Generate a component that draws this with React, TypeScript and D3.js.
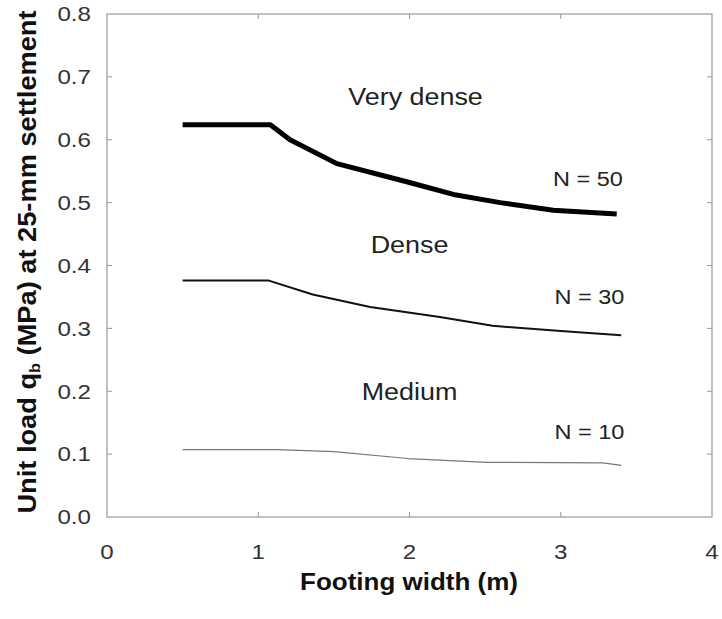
import { useEffect, useRef } from 'react'
import * as d3 from 'd3'

// Footing width (m) vs unit load (MPa) at 25-mm settlement
const n50 = [
  [0.5, 0.624], [1.08, 0.624], [1.21, 0.6], [1.52, 0.562], [2.0, 0.532],
  [2.29, 0.513], [2.6, 0.5], [2.95, 0.488], [3.37, 0.482],
]
const n30 = [
  [0.5, 0.376], [1.07, 0.376], [1.36, 0.354], [1.74, 0.334], [2.2, 0.318],
  [2.55, 0.304], [3.0, 0.296], [3.4, 0.289],
]
const n10 = [
  [0.5, 0.107], [1.13, 0.107], [1.5, 0.104], [1.99, 0.093], [2.51, 0.087],
  [3.28, 0.086], [3.4, 0.082],
]

const xTicks = [0, 1, 2, 3, 4]
const yTicks = [0, 0.1, 0.2, 0.3, 0.4, 0.5, 0.6, 0.7, 0.8]

const zoneLabels = [
  { text: 'Very dense', x: 2.04, y: 0.668 },
  { text: 'Dense', x: 2.0, y: 0.433 },
  { text: 'Medium', x: 2.0, y: 0.199 },
]
const nLabels = [
  { text: 'N = 50', x: 3.18, y: 0.538 },
  { text: 'N = 30', x: 3.19, y: 0.35 },
  { text: 'N = 10', x: 3.19, y: 0.135 },
]

export default function App() {
  const svgRef = useRef(null)

  useEffect(() => {
    if (!svgRef.current) return
    const width = 722
    const height = 619
    const left = 107, right = 712, top = 14, bottom = 517

    d3.select(svgRef.current).selectAll('*').remove()
    const svg = d3.select(svgRef.current).attr('width', width).attr('height', height)
    const font = 'Liberation Sans, Arial, sans-serif'

    const x = d3.scaleLinear().domain([0, 4]).range([left, right])
    const y = d3.scaleLinear().domain([0, 0.8]).range([bottom, top])

    // text stretched a bit horizontally like the scanned original
    const label = (px, py, s, size, sx, anchor = 'middle', weight = 'normal', fill = '#222') => {
      svg.append('g')
        .attr('transform', `translate(${px},${py}) scale(${sx},1)`)
        .append('text')
        .attr('text-anchor', anchor)
        .attr('dy', '0.35em')
        .style('font-family', font).style('font-size', size + 'px')
        .style('font-weight', weight).style('fill', fill)
        .text(s)
    }

    // Frame
    svg.append('rect')
      .attr('x', left).attr('y', top)
      .attr('width', right - left).attr('height', bottom - top)
      .attr('fill', 'none').attr('stroke', '#999').attr('stroke-width', 1.2)

    const tickLen = 5
    xTicks.slice(1, -1).forEach(t => {
      svg.append('line').attr('x1', x(t)).attr('x2', x(t))
        .attr('y1', bottom).attr('y2', bottom - tickLen).attr('stroke', '#999')
      svg.append('line').attr('x1', x(t)).attr('x2', x(t))
        .attr('y1', top).attr('y2', top + tickLen).attr('stroke', '#999')
    })
    yTicks.slice(1, -1).forEach(t => {
      svg.append('line').attr('x1', left).attr('x2', left + tickLen)
        .attr('y1', y(t)).attr('y2', y(t)).attr('stroke', '#999')
      svg.append('line').attr('x1', right).attr('x2', right - tickLen)
        .attr('y1', y(t)).attr('y2', y(t)).attr('stroke', '#999')
    })

    // tick labels
    xTicks.forEach(t => label(x(t), 552, d3.format('d')(t), 21, 1.15, 'middle', 'normal', '#333'))
    yTicks.forEach(t => label(91, y(t), d3.format('.1f')(t), 21, 1.15, 'end', 'normal', '#333'))

    // axis titles
    label(409, 582, 'Footing width (m)', 23, 1.13, 'middle', 'bold', '#111')

    const yt = svg.append('text')
      .attr('transform', `translate(36, 262) rotate(-90) scale(1.09,1)`)
      .attr('text-anchor', 'middle')
      .style('font-family', font).style('font-size', '25px').style('font-weight', 'bold')
      .style('fill', '#111')
    yt.append('tspan').text('Unit load q')
    yt.append('tspan').attr('dy', 4).style('font-size', '15px').text('b')
    yt.append('tspan').attr('dy', -4).text(' (MPa) at 25-mm settlement')

    // curves
    const line = d3.line().x(d => x(d[0])).y(d => y(d[1]))
    const series = [
      { data: n50, w: 5, c: '#000' },
      { data: n30, w: 2, c: '#111' },
      { data: n10, w: 1.2, c: '#777' },
    ]
    series.forEach(s => {
      svg.append('path').attr('d', line(s.data))
        .attr('fill', 'none').attr('stroke', s.c).attr('stroke-width', s.w)
        .attr('stroke-linejoin', 'round')
    })

    zoneLabels.forEach(l => label(x(l.x), y(l.y), l.text, 23, 1.17))
    nLabels.forEach(l => label(x(l.x), y(l.y), l.text, 21, 1.12))
  }, [])

  return <svg ref={svgRef} style={{ display: 'block', position: 'absolute', left: 0, top: 0 }}></svg>
}
